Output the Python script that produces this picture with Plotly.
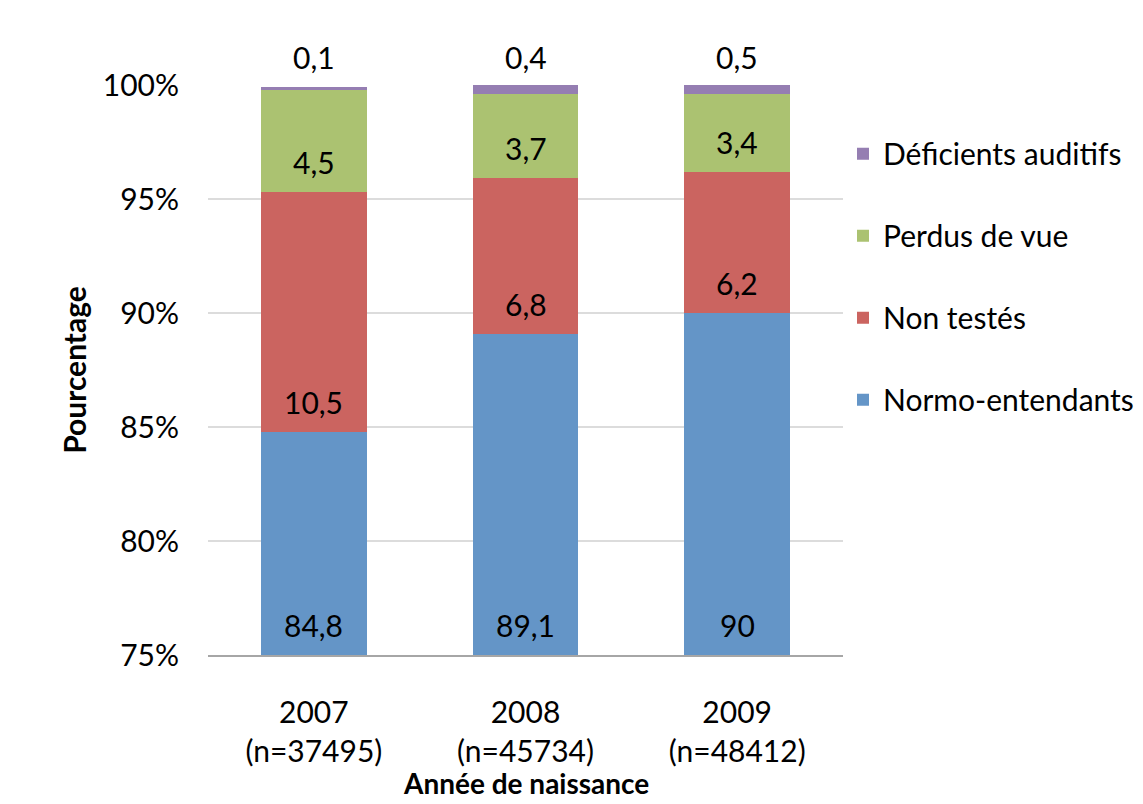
import plotly.graph_objects as go

# Birth-year cohorts and screening outcomes (% of each cohort)
years = ["2007", "2008", "2009"]
counts = ["37495", "45734", "48412"]
normo = [84.8, 89.1, 90]
non_testes = [10.5, 6.8, 6.2]
perdus = [4.5, 3.7, 3.4]
deficients = [0.1, 0.4, 0.5]

series_names = ["Normo-entendants", "Non testés", "Perdus de vue", "Déficients auditifs"]
series_values = [normo, non_testes, perdus, deficients]
series_colors = ["#6495c7", "#cb6460", "#abc271", "#957eb2"]

y_min, y_max = 75, 100
font_family = "Lato, Calibri, Carlito, sans-serif"
font_size = 30

categories = [f"{y}<br>(n={n})" for y, n in zip(years, counts)]


def fmt(v):
    return f"{v:g}".replace(".", ",")


fig = go.Figure()
for idx, (name, vals, color) in enumerate(zip(series_names, series_values, series_colors)):
    fig.add_trace(go.Bar(
        x=categories, y=vals, name=name, legendgroup=name,
        legendrank=len(series_names) - idx,
        marker=dict(color=color, line=dict(width=0)),
        hoverinfo="skip",
    ))

# Value labels: each sits just above the visible base of its segment;
# the top series is labelled above the plot area.
annotations = []
base = [0.0] * len(categories)
for idx, vals in enumerate(series_values):
    for i, cat in enumerate(categories):
        if idx == len(series_values) - 1:
            annotations.append(dict(
                x=cat, y=y_max, xref="x", yref="y", text=fmt(vals[i]),
                showarrow=False, yanchor="middle", yshift=28,
                font=dict(family=font_family, size=font_size, color="black"),
            ))
        else:
            annotations.append(dict(
                x=cat, y=max(base[i], y_min), xref="x", yref="y", text=fmt(vals[i]),
                showarrow=False, yanchor="middle", yshift=30,
                font=dict(family=font_family, size=font_size, color="black"),
            ))
        base[i] += vals[i]

# x-axis title, placed near the bottom edge of the page
annotations.append(dict(
    x=0.5, y=0, xref="paper", yref="paper", text="<b>Année de naissance</b>",
    showarrow=False, xanchor="center", yanchor="bottom", yshift=-147,
    font=dict(family=font_family, size=28, color="black"),
))

fig.update_layout(
    width=1143, height=804,
    barmode="stack", bargap=0.5,
    plot_bgcolor="white", paper_bgcolor="white",
    margin=dict(l=208, r=300, t=85, b=149, autoexpand=False),
    font=dict(family=font_family, size=font_size, color="black"),
    annotations=annotations,
    legend=dict(
        x=1.0, xanchor="left", y=0.925, yanchor="top",
        traceorder="grouped", tracegroupgap=40,
        font=dict(family=font_family, size=font_size, color="black"),
        bgcolor="rgba(0,0,0,0)",
    ),
    yaxis=dict(
        range=[y_min, y_max], dtick=5, ticksuffix="%",
        showgrid=True, gridcolor="#dcdcdc", gridwidth=2,
        zeroline=False, showline=False, ticks="",
        ticklabelstandoff=28,
        title=dict(text="<b>Pourcentage</b>", standoff=7,
                   font=dict(family=font_family, size=font_size)),
    ),
    xaxis=dict(
        showline=True, linecolor="#a6a6a6", linewidth=2,
        ticks="", showgrid=False, ticklabelstandoff=30,
    ),
)

fig.write_html("out.html")
